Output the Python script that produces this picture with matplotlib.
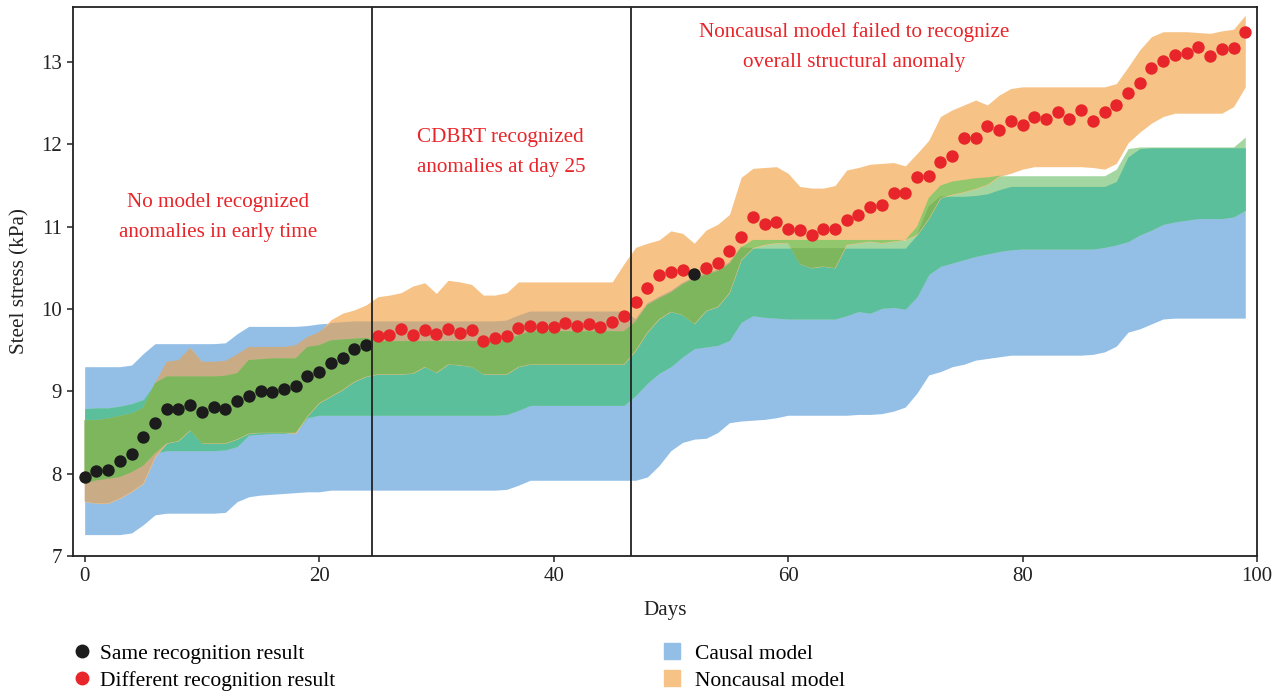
import numpy as np
import matplotlib
matplotlib.use("Agg")
import matplotlib.pyplot as plt
from matplotlib.lines import Line2D

plt.rcParams["font.family"] = ["Liberation Serif", "DejaVu Serif"]

# ---- data (one value per day) ----
days = np.arange(100)

stress = [7.96, 8.03, 8.05, 8.15, 8.24, 8.44, 8.62, 8.79, 8.78, 8.84,
          8.75, 8.81, 8.79, 8.88, 8.94, 9.00, 8.99, 9.03, 9.06, 9.19,
          9.23, 9.35, 9.40, 9.52, 9.56, 9.67, 9.69, 9.76, 9.69, 9.75,
          9.70, 9.76, 9.71, 9.75, 9.61, 9.65, 9.67, 9.77, 9.80, 9.78,
          9.78, 9.83, 9.80, 9.82, 9.78, 9.84, 9.91, 10.08, 10.26, 10.41,
          10.45, 10.47, 10.43, 10.50, 10.56, 10.71, 10.88, 11.12, 11.03, 11.06,
          10.97, 10.96, 10.90, 10.97, 10.97, 11.08, 11.14, 11.24, 11.27, 11.41,
          11.41, 11.60, 11.62, 11.79, 11.86, 12.08, 12.08, 12.22, 12.18, 12.28,
          12.24, 12.33, 12.31, 12.39, 12.31, 12.42, 12.29, 12.39, 12.48, 12.62,
          12.75, 12.93, 13.01, 13.09, 13.11, 13.18, 13.07, 13.16, 13.17, 13.37]

# days where both models gave the same recognition result
same_days = [0, 1, 2, 3, 4, 5, 6, 7, 8, 9, 10, 11, 12, 13, 14, 15, 16, 17,
             18, 19, 20, 21, 22, 23, 24, 52]

# causal model, wide interval (blue)
causal_lo = [7.26, 7.26, 7.26, 7.26, 7.28, 7.38, 7.50, 7.52, 7.52, 7.52,
             7.52, 7.52, 7.53, 7.66, 7.72, 7.74, 7.75, 7.76, 7.77, 7.78,
             7.78, 7.80, 7.80, 7.80, 7.80, 7.80, 7.80, 7.80, 7.80, 7.80,
             7.80, 7.80, 7.80, 7.80, 7.80, 7.80, 7.81, 7.86, 7.92, 7.92,
             7.92, 7.92, 7.92, 7.92, 7.92, 7.92, 7.92, 7.92, 7.96, 8.10,
             8.28, 8.38, 8.42, 8.43, 8.50, 8.62, 8.64, 8.65, 8.66, 8.68,
             8.71, 8.71, 8.71, 8.71, 8.71, 8.71, 8.72, 8.72, 8.73, 8.76,
             8.81, 8.98, 9.20, 9.24, 9.30, 9.33, 9.38, 9.40, 9.42, 9.44,
             9.44, 9.44, 9.44, 9.44, 9.44, 9.44, 9.45, 9.48, 9.55, 9.72,
             9.76, 9.82, 9.88, 9.89, 9.89, 9.89, 9.89, 9.89, 9.89, 9.89]
causal_hi = [9.30, 9.30, 9.30, 9.30, 9.32, 9.46, 9.58, 9.58, 9.58, 9.58,
             9.58, 9.58, 9.59, 9.70, 9.79, 9.79, 9.79, 9.79, 9.79, 9.80,
             9.82, 9.83, 9.84, 9.85, 9.85, 9.85, 9.85, 9.85, 9.85, 9.85,
             9.85, 9.85, 9.85, 9.85, 9.85, 9.85, 9.86, 9.92, 9.97, 9.97,
             9.97, 9.97, 9.97, 9.97, 9.97, 9.97, 9.97, 9.88, 10.07, 10.15,
             10.22, 10.32, 10.39, 10.44, 10.48, 10.57, 10.76, 10.74, 10.74, 10.74,
             10.74, 10.74, 10.74, 10.74, 10.74, 10.74, 10.74, 10.74, 10.74, 10.74,
             10.74, 10.90, 11.25, 11.37, 11.37, 11.37, 11.38, 11.40, 11.45, 11.49,
             11.49, 11.49, 11.49, 11.49, 11.49, 11.49, 11.49, 11.49, 11.55, 11.85,
             11.95, 11.96, 11.96, 11.96, 11.96, 11.96, 11.96, 11.96, 11.96, 11.96]

# causal model, narrow interval (green)
inner_lo = [7.88, 7.92, 7.94, 7.96, 8.02, 8.10, 8.25, 8.28, 8.28, 8.28,
            8.28, 8.28, 8.29, 8.33, 8.47, 8.48, 8.49, 8.49, 8.50, 8.68,
            8.71, 8.71, 8.71, 8.71, 8.71, 8.71, 8.71, 8.71, 8.71, 8.71,
            8.71, 8.71, 8.71, 8.71, 8.71, 8.71, 8.72, 8.77, 8.83, 8.83,
            8.83, 8.83, 8.83, 8.83, 8.83, 8.83, 8.83, 8.95, 9.10, 9.22,
            9.30, 9.42, 9.52, 9.54, 9.56, 9.62, 9.84, 9.92, 9.90, 9.89,
            9.88, 9.88, 9.88, 9.88, 9.88, 9.92, 9.97, 9.95, 10.01, 10.02,
            10.00, 10.15, 10.42, 10.52, 10.56, 10.60, 10.64, 10.67, 10.70, 10.72,
            10.73, 10.73, 10.73, 10.73, 10.73, 10.73, 10.73, 10.75, 10.78, 10.82,
            10.90, 10.96, 11.03, 11.06, 11.08, 11.10, 11.10, 11.10, 11.12, 11.20]
inner_hi = [8.79, 8.80, 8.80, 8.82, 8.85, 8.90, 9.10, 9.18, 9.18, 9.18,
            9.18, 9.18, 9.19, 9.22, 9.38, 9.39, 9.40, 9.40, 9.40, 9.54,
            9.56, 9.62, 9.63, 9.64, 9.65, 9.61, 9.61, 9.61, 9.61, 9.61,
            9.61, 9.61, 9.61, 9.61, 9.61, 9.61, 9.62, 9.68, 9.73, 9.73,
            9.73, 9.73, 9.73, 9.73, 9.73, 9.73, 9.73, 9.85, 10.05, 10.13,
            10.20, 10.30, 10.37, 10.42, 10.46, 10.55, 10.75, 10.84, 10.84, 10.84,
            10.84, 10.84, 10.84, 10.84, 10.84, 10.84, 10.84, 10.84, 10.84, 10.84,
            10.84, 11.00, 11.35, 11.50, 11.55, 11.57, 11.59, 11.60, 11.62, 11.62,
            11.62, 11.62, 11.62, 11.62, 11.62, 11.62, 11.62, 11.62, 11.70, 11.95,
            11.97, 11.97, 11.97, 11.97, 11.97, 11.97, 11.97, 11.97, 11.97, 12.09]

# noncausal model interval (orange)
noncausal_lo = [7.66, 7.64, 7.64, 7.70, 7.78, 7.88, 8.20, 8.37, 8.40, 8.53,
                8.37, 8.37, 8.37, 8.42, 8.49, 8.50, 8.50, 8.50, 8.49, 8.70,
                8.86, 8.94, 9.02, 9.12, 9.18, 9.21, 9.21, 9.21, 9.22, 9.30,
                9.23, 9.33, 9.32, 9.30, 9.21, 9.21, 9.21, 9.30, 9.33, 9.33,
                9.33, 9.33, 9.33, 9.33, 9.33, 9.33, 9.33, 9.50, 9.72, 9.88,
                9.97, 9.93, 9.82, 9.98, 10.03, 10.20, 10.60, 10.74, 10.78, 10.80,
                10.80, 10.55, 10.50, 10.52, 10.50, 10.78, 10.80, 10.82, 10.80, 10.82,
                10.84, 10.90, 11.10, 11.35, 11.39, 11.42, 11.46, 11.51, 11.61, 11.65,
                11.70, 11.73, 11.73, 11.73, 11.73, 11.73, 11.72, 11.70, 11.77, 12.02,
                12.15, 12.26, 12.34, 12.38, 12.38, 12.38, 12.38, 12.38, 12.46, 12.70]
noncausal_hi = [8.65, 8.65, 8.67, 8.70, 8.73, 8.80, 9.10, 9.36, 9.38, 9.53,
                9.36, 9.36, 9.37, 9.45, 9.54, 9.54, 9.54, 9.54, 9.56, 9.66,
                9.72, 9.87, 9.95, 9.99, 10.05, 10.15, 10.17, 10.20, 10.28, 10.32,
                10.19, 10.35, 10.33, 10.30, 10.17, 10.17, 10.20, 10.33, 10.33, 10.33,
                10.33, 10.33, 10.33, 10.33, 10.33, 10.33, 10.55, 10.75, 10.80, 10.84,
                10.95, 10.92, 10.80, 10.96, 11.03, 11.15, 11.60, 11.71, 11.72, 11.73,
                11.65, 11.49, 11.47, 11.47, 11.50, 11.69, 11.72, 11.76, 11.77, 11.78,
                11.74, 11.89, 12.05, 12.34, 12.42, 12.48, 12.54, 12.48, 12.60, 12.68,
                12.70, 12.70, 12.70, 12.70, 12.70, 12.70, 12.70, 12.70, 12.74, 12.94,
                13.15, 13.31, 13.37, 13.37, 13.37, 13.36, 13.35, 13.38, 13.40, 13.57]

divider_days = [24.5, 46.6]

# colours of the bands and of their overlaps
C_BLUE = "#93bfe6"
C_ORANGE = "#f6c285"
C_TEAL = "#5cbf9b"
C_LIGHTGREEN = "#a3d6a0"
C_TAN = "#c9ab86"
C_OLIVE = "#7db65c"
C_LIGHTOLIVE = "#93c76e"
C_RED = "#e8252a"
C_BLACK = "#1c1c1c"


def fill_overlap(ax, lows, highs, color):
    lo = np.max(np.array(lows), axis=0)
    hi = np.min(np.array(highs), axis=0)
    ax.fill_between(days, lo, hi, where=hi > lo, interpolate=True,
                    color=color, lw=0)


fig = plt.figure(figsize=(12.82, 6.95), dpi=100)
ax = fig.add_axes([0.0569, 0.2, 0.9236, 0.7899])

# bands, then their overlaps painted on top
fill_overlap(ax, [causal_lo], [causal_hi], C_BLUE)
fill_overlap(ax, [inner_lo], [inner_hi], C_LIGHTGREEN)
fill_overlap(ax, [inner_lo, causal_lo], [inner_hi, causal_hi], C_TEAL)
fill_overlap(ax, [noncausal_lo], [noncausal_hi], C_ORANGE)
fill_overlap(ax, [noncausal_lo, causal_lo], [noncausal_hi, causal_hi], C_TAN)
fill_overlap(ax, [noncausal_lo, inner_lo], [noncausal_hi, inner_hi], C_LIGHTOLIVE)
fill_overlap(ax, [noncausal_lo, inner_lo, causal_lo],
             [noncausal_hi, inner_hi, causal_hi], C_OLIVE)

# recognition points
stress_arr = np.array(stress)
is_same = np.isin(days, same_days)
ax.scatter(days[~is_same], stress_arr[~is_same], s=80, color=C_RED, zorder=4, lw=0)
ax.scatter(days[is_same], stress_arr[is_same], s=80, color=C_BLACK, zorder=4, lw=0)

for xd in divider_days:
    ax.axvline(xd, color="#222222", lw=1.3, zorder=5)

ann_kw = dict(color=C_RED, fontsize=15.2, ha="center", va="center", linespacing=1.8)
ax.text(11.35, 11.11, "No model recognized\nanomalies in early time", **ann_kw)
ax.text(35.5, 11.90, "CDBRT recognized\nanomalies at day 25", **ann_kw)
ax.text(65.6, 13.18, "Noncausal model failed to recognize\noverall structural anomaly", **ann_kw)

ax.set_xlim(-1, 100)
ax.set_ylim(7, 13.67)
ax.set_xticks([0, 20, 40, 60, 80, 100])
ax.set_yticks([7, 8, 9, 10, 11, 12, 13])
ax.tick_params(direction="out", length=4.5, width=1.1, labelsize=15, colors="#222222")
for sp in ax.spines.values():
    sp.set_linewidth(1.3)
    sp.set_color("#222222")
ax.set_xlabel("Days", fontsize=15.2, labelpad=11, color="#222222")
ax.set_ylabel("Steel stress (kPa)", fontsize=15.2, labelpad=8, color="#222222")

# legends under the plot
pts_handles = [Line2D([], [], ls="none", marker="o", ms=9, color=C_BLACK),
               Line2D([], [], ls="none", marker="o", ms=9, color=C_RED)]
fig.legend(pts_handles, ["Same recognition result", "Different recognition result"],
           loc="upper left", bbox_to_anchor=(0.0554, 0.0735), frameon=False,
           fontsize=15.5, handlelength=1.0, handletextpad=0.36,
           labelspacing=0.32, borderpad=0, borderaxespad=0)
band_handles = [Line2D([], [], ls="none", marker="s", ms=11, color=C_BLUE),
                Line2D([], [], ls="none", marker="s", ms=11, color=C_ORANGE)]
fig.legend(band_handles, ["Causal model", "Noncausal model"],
           loc="upper left", bbox_to_anchor=(0.5156, 0.0735), frameon=False,
           fontsize=15.5, handlelength=1.0, handletextpad=0.58,
           labelspacing=0.32, borderpad=0, borderaxespad=0)

fig.savefig("out.png", dpi=100)
